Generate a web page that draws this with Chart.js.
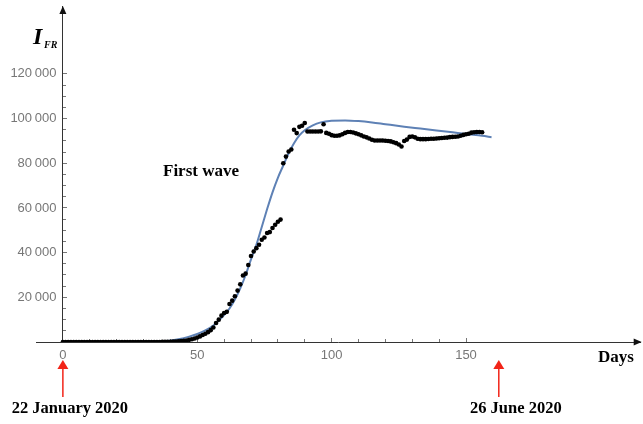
<!DOCTYPE html>
<html>
<head>
<meta charset="utf-8">
<script src="https://cdn.jsdelivr.net/npm/chart.js@4.4.0/dist/chart.umd.min.js"></script>
<style>
  html, body { margin: 0; padding: 0; background: #fff; }
  #wrap { width: 643px; height: 424px; }
</style>
</head>
<body>
<div id="wrap"><canvas id="chart" width="643" height="424"></canvas></div>
<script>
// daily infected counts, index = days since 22 January 2020
const infected = [
  0, 0, 0, 3, 3, 3, 4, 5, 5, 5,
  6, 6, 6, 6, 6, 6, 6, 11, 11, 11,
  12, 12, 12, 12, 12, 12, 12, 12, 12, 12,
  12, 12, 12, 12, 12, 14, 18, 38, 57, 100,
  130, 190, 240, 290, 380, 550, 700, 1000, 1250, 1600,
  2000, 2500, 3100, 3700, 4400, 5300, 6500, 8500, 10000, 11800,
  13000, 13500, 17000, 18500, 20500, 23000, 25800, 29800, 30600, 34500,
  38500, 40500, 42000, 43500, 45800, 46800, 48800, 49200, 51000, 52500,
  53800, 54800, 80000, 83000, 85300, 86200, 95000, 93500, 96300, 96800,
  98000, 94200, 94200, 94200, 94200, 94200, 94300, 97500, 93600, 93200,
  92600, 92300, 92300, 92500, 93000, 93600, 94000, 94000, 93800, 93400,
  93000, 92500, 92000, 91600, 91100, 90500, 90200, 90200, 90200, 90200,
  90100, 90000, 89800, 89400, 89000, 88400, 87500, 90000, 90600, 91800,
  92000, 91600, 91000, 90800, 90800, 90800, 90900, 91000, 91000, 91100,
  91200, 91300, 91400, 91500, 91700, 91800, 91900, 92000, 92300, 92700,
  93000, 93200, 93700, 93900, 94000, 94000, 93900
]

// fitted model curve, sampled
const fitDays = [0, 10, 20, 30, 35, 40, 43, 47, 50, 53, 56, 59, 62, 64, 66, 68, 70, 72, 74, 76,
  78, 80, 82, 84, 86, 88, 90, 93, 96, 100, 105, 110, 115, 120, 127, 133, 139, 145, 151, 156, 159.5]
const fitValues = [0, 0, 30, 100, 250, 600, 1200, 2400, 3600, 5200, 7400, 10800, 15000, 19000, 24000,
  30000, 37000, 43500, 51500, 59500, 67000, 73500, 79000, 84500, 89000, 92500, 94800, 97000, 98300,
  99000, 99200, 98900, 98300, 97500, 96400, 95550, 94700, 93850, 93000, 92300, 91700]

const xMajorTicks = [0, 50, 100, 150]
const xMinorTicks = [10, 20, 30, 40, 60, 70, 80, 90, 110, 120, 130, 140]
const yMajorTicks = [0, 20000, 40000, 60000, 80000, 100000, 120000]
const yMinorTicks = [5000, 10000, 15000, 25000, 30000, 35000, 45000, 50000, 55000,
  65000, 70000, 75000, 85000, 90000, 95000, 105000, 110000, 115000]

const dateMarks = [
  { day: 0, text: "22 January 2020", shift: 7 },
  { day: 162.2, text: "26 June 2020", shift: 17 },
]

const points = infected.map((v, i) => ({ x: i, y: v }))
const fit = fitDays.map((d, i) => ({ x: d, y: fitValues[i] }))

const tickFont = { family: "'Liberation Sans', Arial, sans-serif", size: 13 }
// short line height keeps the label padding from pushing the plot top down
const yTickFont = { family: "'Liberation Sans', Arial, sans-serif", size: 13, lineHeight: 0.6 }
const tickGrey = "#777"
const axisColor = "#333"

function digitBlocks(v) {
  return String(v).replace(/\B(?=(\d{3})+(?!\d))/g, "\u2009")
}

function fixedTicks(list) {
  return scale => { scale.ticks = list.map(v => ({ value: v })) }
}

const decorations = {
  id: "decorations",
  afterDraw(chart) {
    const { ctx, chartArea, scales } = chart
    const x0 = scales.x.getPixelForValue(0)
    const y0 = scales.y.getPixelForValue(0)
    ctx.save()

    // arrowheads on both axes
    ctx.fillStyle = "#111"
    ctx.beginPath()
    ctx.moveTo(x0, chartArea.top - 1)
    ctx.lineTo(x0 - 3.5, chartArea.top + 7)
    ctx.lineTo(x0 + 3.5, chartArea.top + 7)
    ctx.closePath()
    ctx.fill()
    ctx.beginPath()
    ctx.moveTo(chartArea.right + 1, y0)
    ctx.lineTo(chartArea.right - 7, y0 - 3.5)
    ctx.lineTo(chartArea.right - 7, y0 + 3.5)
    ctx.closePath()
    ctx.fill()

    // axis titles
    ctx.fillStyle = "#000"
    ctx.textAlign = "left"
    ctx.textBaseline = "alphabetic"
    ctx.font = "bold italic 24px 'Liberation Serif', 'Times New Roman', serif"
    ctx.fillText("I", 33, 44)
    ctx.font = "bold italic 10px 'Liberation Serif', 'Times New Roman', serif"
    ctx.fillText("FR", 44, 48)
    ctx.font = "bold 17px 'Liberation Serif', 'Times New Roman', serif"
    ctx.fillText("Days", 598, 362)
    ctx.fillText("First wave", 163, 176)

    // red date arrows under the time axis
    ctx.font = "bold 16.5px 'Liberation Serif', 'Times New Roman', serif"
    ctx.textAlign = "center"
    dateMarks.forEach(m => {
      const px = scales.x.getPixelForValue(m.day)
      ctx.strokeStyle = "#f22418"
      ctx.fillStyle = "#f22418"
      ctx.lineWidth = 1.5
      ctx.beginPath()
      ctx.moveTo(px, 397)
      ctx.lineTo(px, 367)
      ctx.stroke()
      ctx.beginPath()
      ctx.moveTo(px, 360)
      ctx.lineTo(px - 5.5, 369)
      ctx.lineTo(px + 5.5, 369)
      ctx.closePath()
      ctx.fill()
      ctx.fillStyle = "#000"
      ctx.fillText(m.text, px + m.shift, 413)
    })
    ctx.restore()
  },
}

new Chart(document.getElementById("chart"), {
  type: "scatter",
  data: {
    datasets: [
      {
        data: points,
        showLine: false,
        pointRadius: 2.3,
        pointHoverRadius: 2.3,
        pointBackgroundColor: "#000",
        pointBorderWidth: 0,
      },
      {
        data: fit,
        showLine: true,
        pointRadius: 0,
        borderColor: "#5e81b5",
        borderWidth: 2,
        cubicInterpolationMode: "monotone",
      },
    ],
  },
  options: {
    responsive: false,
    animation: false,
    devicePixelRatio: 1,
    layout: { padding: { left: 36, right: 2, top: 5, bottom: 82 } },
    plugins: { legend: { display: false }, tooltip: { enabled: false } },
    scales: {
      x: {
        type: "linear",
        min: -10,
        max: 215,
        position: { y: 0 },
        afterBuildTicks: fixedTicks(xMajorTicks),
        grid: { drawOnChartArea: false, tickLength: -5, tickColor: tickGrey },
        border: { color: axisColor, width: 1 },
        ticks: { color: tickGrey, font: tickFont, padding: 11, maxRotation: 0 },
      },
      xm: {
        type: "linear",
        axis: "x",
        min: -10,
        max: 215,
        position: { y: 0 },
        afterBuildTicks: fixedTicks(xMinorTicks),
        grid: { drawOnChartArea: false, tickLength: -3, tickColor: tickGrey },
        border: { display: false },
        ticks: { display: false },
      },
      y: {
        type: "linear",
        min: 0,
        max: 150000,
        position: { x: 0 },
        afterBuildTicks: fixedTicks(yMajorTicks),
        grid: { drawOnChartArea: false, tickLength: -5, tickColor: tickGrey },
        border: { color: axisColor, width: 1 },
        ticks: {
          color: tickGrey,
          font: yTickFont,
          callback: v => (v === 0 ? "" : digitBlocks(v) + "\u2002"),
        },
      },
      ym: {
        type: "linear",
        axis: "y",
        min: 0,
        max: 150000,
        position: { x: 0 },
        afterBuildTicks: fixedTicks(yMinorTicks),
        grid: { drawOnChartArea: false, tickLength: -3, tickColor: tickGrey },
        border: { display: false },
        ticks: { display: false },
      },
    },
  },
  plugins: [decorations],
})
</script>
</body>
</html>
